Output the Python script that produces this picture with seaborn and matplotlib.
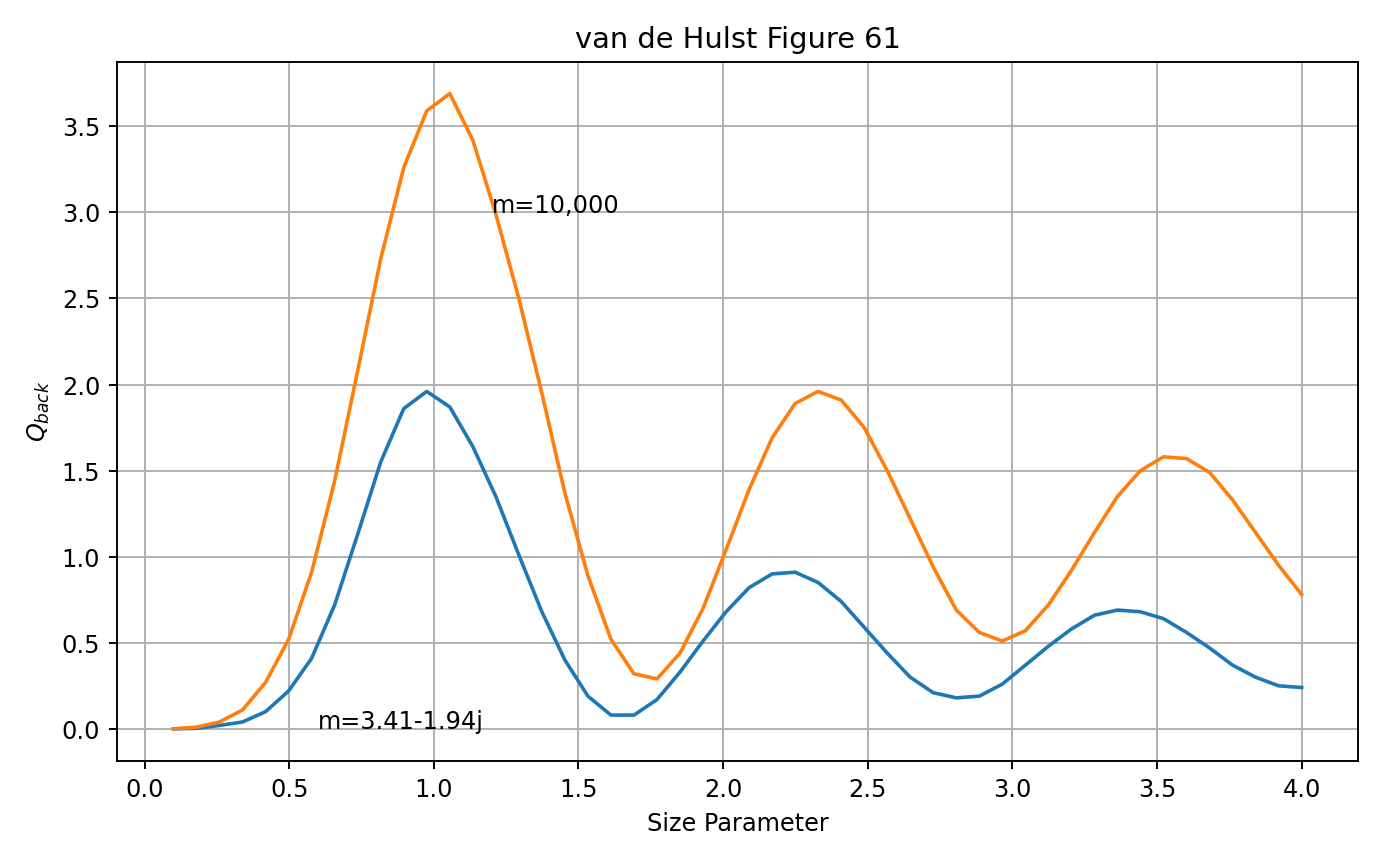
import numpy as np
import matplotlib
matplotlib.use("Agg")
import matplotlib.pyplot as plt
import seaborn as sns

X = np.linspace(0.1, 4.0, 50)

Q_LOSSY = [0.0, 0.003, 0.02, 0.04, 0.10, 0.22, 0.41, 0.72, 1.13, 1.55,
           1.86, 1.96, 1.87, 1.64, 1.35, 1.01, 0.68, 0.40, 0.19, 0.08,
           0.08, 0.17, 0.33, 0.51, 0.68, 0.82, 0.90, 0.91, 0.85, 0.74,
           0.59, 0.44, 0.30, 0.21, 0.18, 0.19, 0.26, 0.37, 0.48, 0.58,
           0.66, 0.69, 0.68, 0.64, 0.56, 0.47, 0.37, 0.30, 0.25, 0.24]

Q_BIG = [0.0, 0.01, 0.04, 0.11, 0.27, 0.52, 0.91, 1.44, 2.08, 2.73,
         3.26, 3.59, 3.69, 3.42, 2.99, 2.50, 1.95, 1.37, 0.89, 0.52,
         0.32, 0.29, 0.44, 0.70, 1.04, 1.39, 1.69, 1.89, 1.96, 1.91,
         1.75, 1.50, 1.22, 0.94, 0.69, 0.56, 0.51, 0.57, 0.72, 0.92,
         1.14, 1.35, 1.50, 1.58, 1.57, 1.49, 1.33, 1.14, 0.95, 0.78]

fig, ax = plt.subplots(figsize=(8, 4.98), dpi=173)
sns.lineplot(x=X, y=Q_LOSSY, ax=ax, color="#1f77b4")
sns.lineplot(x=X, y=Q_BIG, ax=ax, color="#ff7f0e")
ax.text(0.6, 0.0, "m=3.41-1.94j")
ax.text(1.2, 3.0, "m=10,000")
ax.set_xlabel("Size Parameter")
ax.set_ylabel("$Q_{back}$")
ax.set_title("van de Hulst Figure 61")
ax.grid(True)
fig.tight_layout()
fig.savefig("out.png")
